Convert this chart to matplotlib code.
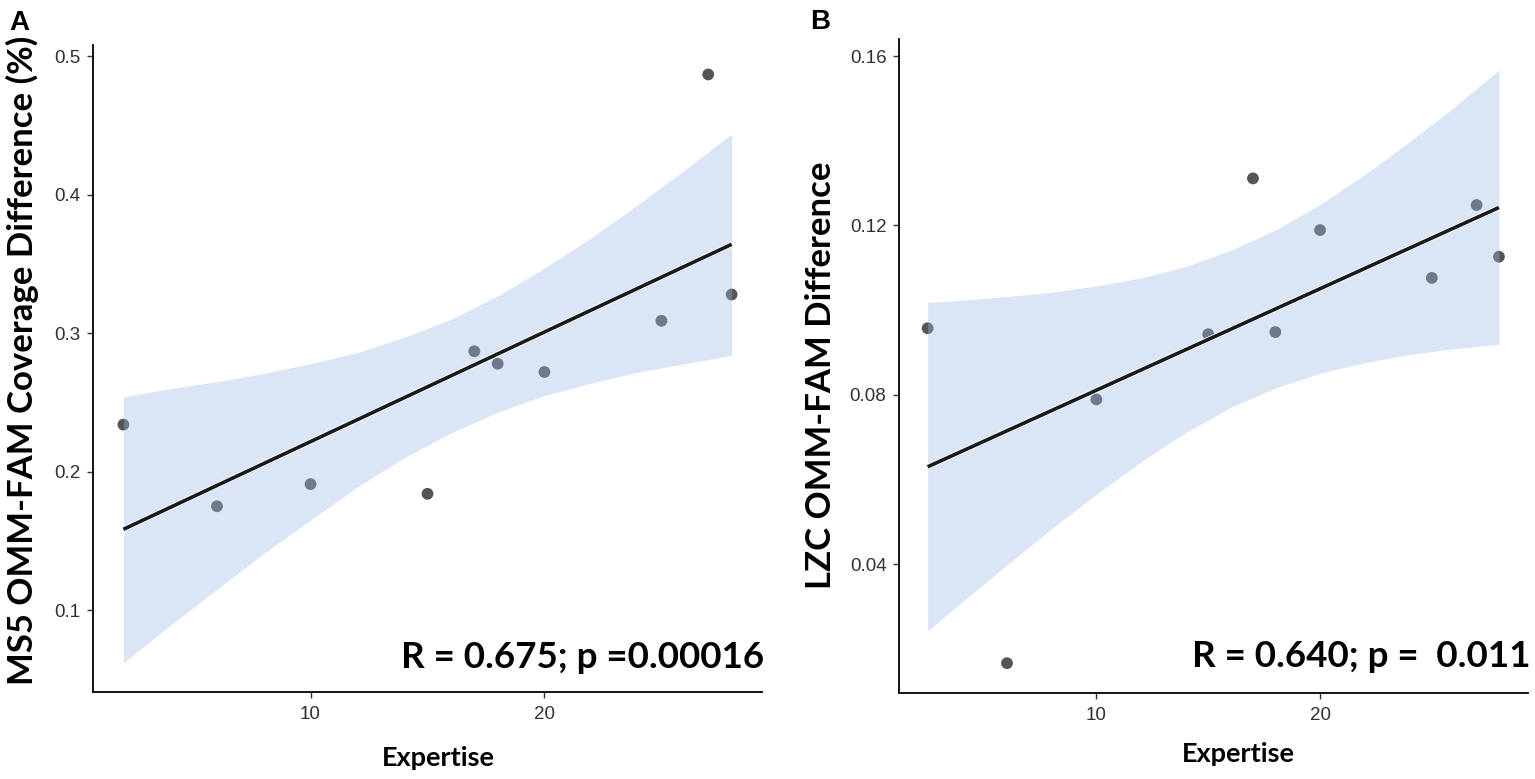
import matplotlib
matplotlib.use("Agg")
import matplotlib.pyplot as plt
import matplotlib.patheffects as pe

# panel A: MS5 coverage difference vs expertise
a_x = [2, 6, 10, 15, 17, 18, 20, 25, 27, 28]
a_y = [0.234, 0.175, 0.191, 0.184, 0.287, 0.278, 0.272, 0.309, 0.487, 0.328]
a_fit = (0.1425, 0.00792)  # intercept, slope
a_band_x = [2, 4, 6, 8, 10, 12, 14, 16, 18, 20, 22, 24, 26, 28]
a_band_hi = [0.254, 0.260, 0.265, 0.271, 0.278, 0.286, 0.297, 0.310, 0.327, 0.347, 0.369, 0.393, 0.418, 0.444]
a_band_lo = [0.062, 0.089, 0.115, 0.141, 0.165, 0.189, 0.210, 0.228, 0.243, 0.255, 0.264, 0.272, 0.278, 0.284]
a_yticks = [0.1, 0.2, 0.3, 0.4, 0.5]

# panel B: LZC difference vs expertise
b_x = [2.45, 6, 10, 15, 17, 18, 20, 25, 27, 28]
b_y = [0.0957, 0.0166, 0.0789, 0.0943, 0.1311, 0.0948, 0.1189, 0.1076, 0.1248, 0.1126]
b_fit = (0.0571, 0.002397)
b_band_x = [2.45, 4, 6, 8, 10, 12, 14, 16, 18, 20, 22, 24, 26, 28]
b_band_hi = [0.1018, 0.1023, 0.1032, 0.1042, 0.1057, 0.1076, 0.1103, 0.1141, 0.1189, 0.1249, 0.1320, 0.1397, 0.1479, 0.1567]
b_band_lo = [0.0242, 0.0311, 0.0398, 0.0484, 0.0565, 0.0642, 0.0711, 0.0770, 0.0816, 0.0851, 0.0876, 0.0895, 0.0909, 0.0919]
b_yticks = [0.04, 0.08, 0.12, 0.16]

W, H = 1535, 779
fig = plt.figure(figsize=(W / 100, H / 100), dpi=100)

bold = dict(family=["Lato", "DejaVu Sans"], weight="bold", color="black")
tickfont = "Liberation Sans"


def panel(rect, xs, ys, fit, bx, bhi, blo, yticks, ylim, xlim, fmt):
    ax = fig.add_axes(rect)
    ax.scatter(xs, ys, s=72, color="#555555", edgecolor="none", zorder=2)
    ax.fill_between(bx, blo, bhi, color="#9bb9e4", alpha=0.37, lw=0, zorder=3)
    lx = [bx[0], bx[-1]]
    ly = [fit[0] + fit[1] * v for v in lx]
    ax.plot(lx, ly, color="#1a1a1a", lw=2.6, zorder=4, solid_capstyle="butt",
            path_effects=[pe.Stroke(linewidth=3.8, foreground="white"), pe.Normal()])
    ax.set_xlim(*xlim)
    ax.set_ylim(*ylim)
    ax.set_xticks([10, 20])
    ax.set_yticks(yticks)
    ax.set_yticklabels([fmt.format(v) for v in yticks])
    for s in ["top", "right"]:
        ax.spines[s].set_visible(False)
    for s in ["left", "bottom"]:
        ax.spines[s].set_linewidth(1.3)
    ax.tick_params(length=4, width=1.0, color="#333333", labelsize=13.5,
                   labelcolor="#303030")
    ax.tick_params(axis="x", pad=6)
    ax.tick_params(axis="y", pad=5)
    for lab in ax.get_xticklabels() + ax.get_yticklabels():
        lab.set_family(tickfont)
    return ax


panel([93 / W, 1 - 691.7 / H, (762 - 93) / W, (691.7 - 45.4) / H],
      a_x, a_y, a_fit, a_band_x, a_band_hi, a_band_lo, a_yticks,
      (0.041, 0.508), (0.7, 29.3), "{:.1f}")
panel([899 / W, 1 - 693.2 / H, (1528 - 899) / W, (693.2 - 39.1) / H],
      b_x, b_y, b_fit, b_band_x, b_band_hi, b_band_lo, b_yticks,
      (0.0095, 0.164), (1.17, 29.3), "{:.2f}")


def px(x, y):
    return x / W, 1 - y / H


# annotations
fig.text(*px(764, 668), "R = 0.675; p =0.00016", ha="right", va="baseline", fontsize=26.5, **bold)
fig.text(*px(1530, 667), "R = 0.640; p =  0.011", ha="right", va="baseline", fontsize=26.5, **bold)

fig.text(*px(438, 766), "Expertise", ha="center", va="baseline", fontsize=19.5, **bold)
fig.text(*px(1238, 762), "Expertise", ha="center", va="baseline", fontsize=19.5, **bold)

fig.text(*px(22, 360), "MS5 OMM-FAM Coverage Difference (%)", rotation=90,
         ha="center", va="center", fontsize=25, **bold)
fig.text(*px(821, 375), "LZC OMM-FAM Difference", rotation=90,
         ha="center", va="center", fontsize=25, **bold)

fig.text(*px(9, 30), "A", ha="left", va="baseline", fontsize=20,
         family="Liberation Sans", weight="bold")
fig.text(*px(810, 29), "B", ha="left", va="baseline", fontsize=20,
         family="Liberation Sans", weight="bold")

fig.savefig("out.png", dpi=100)
plt.close(fig)
